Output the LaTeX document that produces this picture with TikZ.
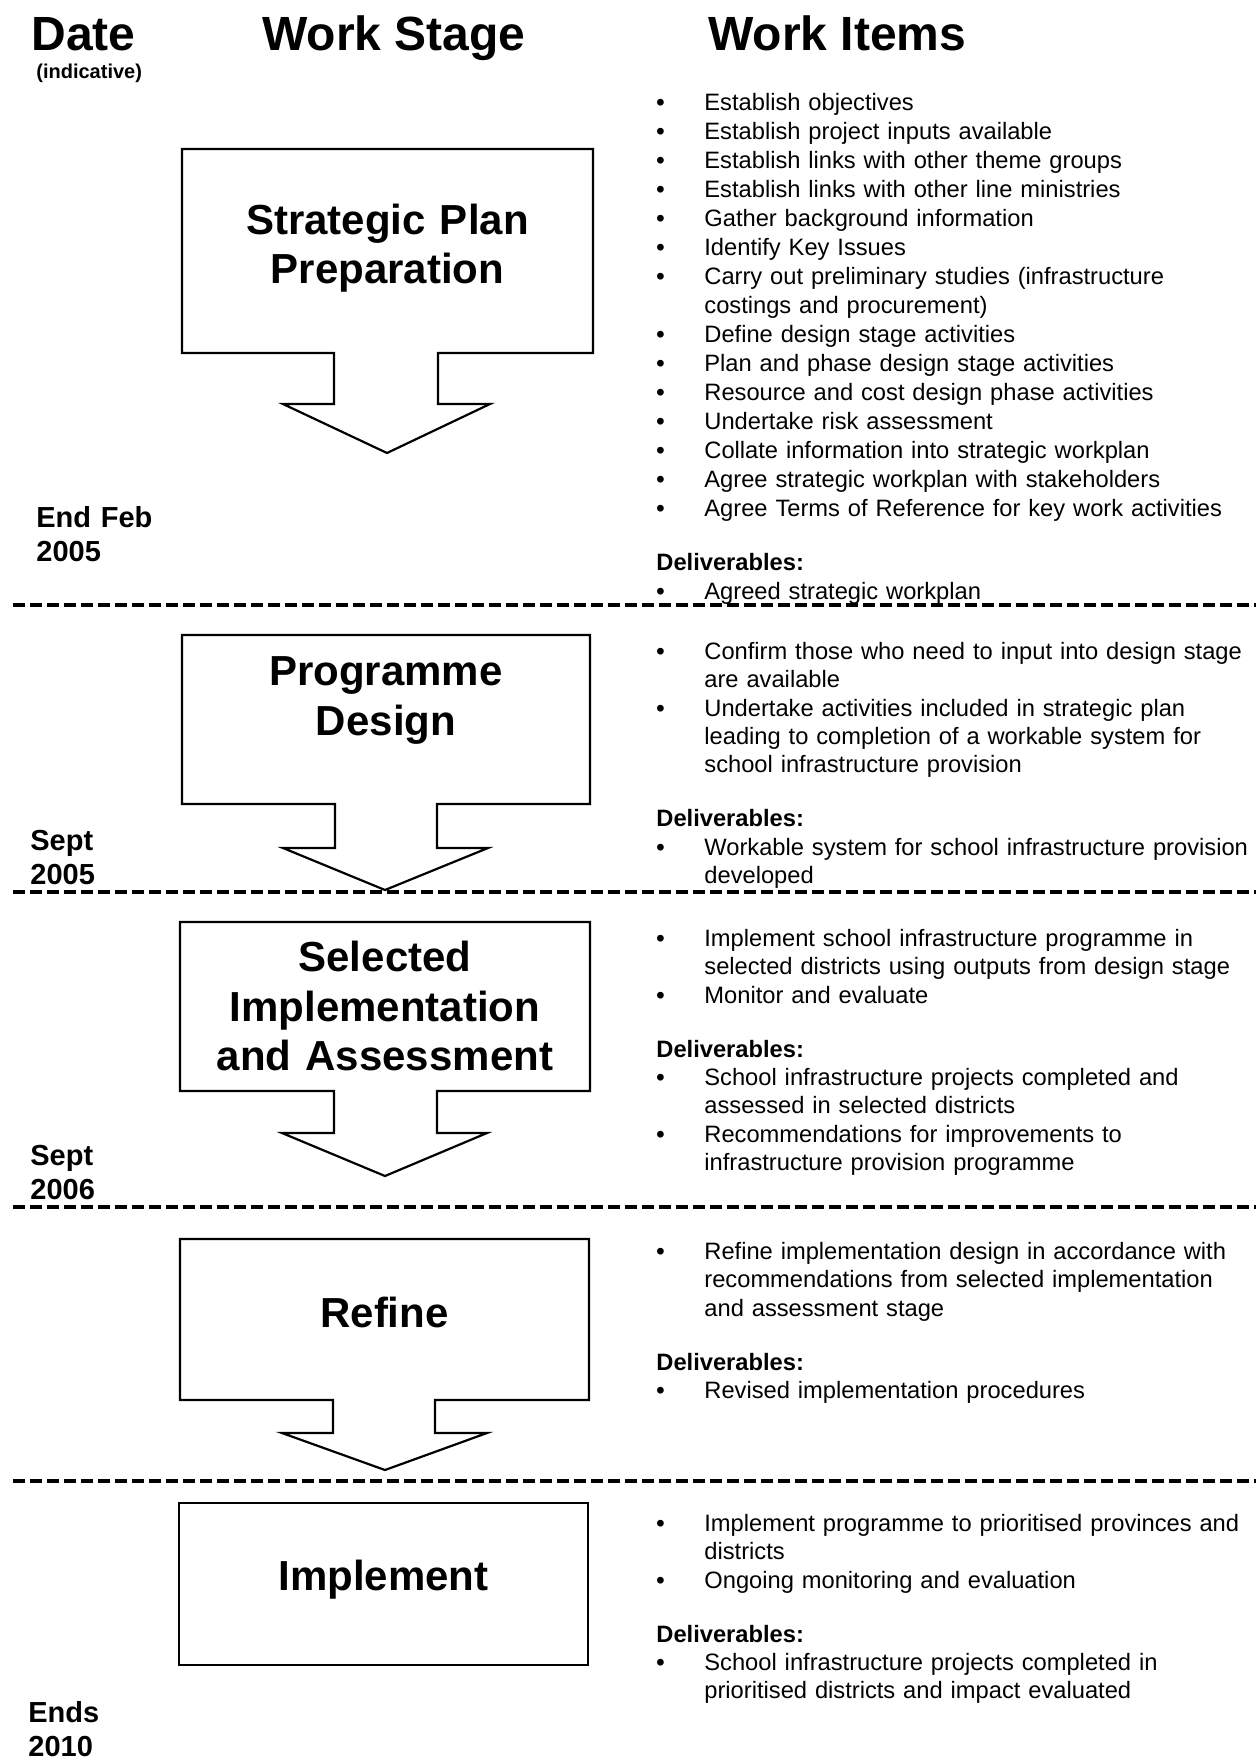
\documentclass[tikz,border=0pt]{standalone}
\usepackage{fontspec}
\setmainfont{Liberation Sans}
\usepackage{tikz}
\setlength{\parindent}{0pt}
\setlength{\parskip}{0pt}
\newcommand{\bul}{\makebox[24pt][l]{\textbf{\textbullet}}}
\newcommand{\cont}{\hspace*{24pt}}

\begin{document}
\begin{tikzpicture}[
    x=0.5pt, y=-0.5pt,
    header/.style={anchor=base west, inner sep=0, font=\fontsize{24}{28}\selectfont\bfseries},
    datelbl/.style={anchor=north west, inner sep=0, text width=80pt, align=left, font=\fontsize{14.5}{16.85}\selectfont\bfseries},
    stage/.style={anchor=north, inner sep=0, text width=200pt, align=center, font=\fontsize{21}{24.7}\selectfont\bfseries},
    items/.style={anchor=north west, inner sep=0, text width=300pt, align=left, font=\fontsize{11.85}{14.2}\selectfont},
    outline/.style={line width=1.1pt, line join=miter},
    divider/.style={line width=1.6pt, dash pattern=on 6pt off 2.5pt}
]
\useasboundingbox (0,0) rectangle (1256,1762);

% Column headers
\node[header] (hdate) at (31,50.5) {Date};
\node[anchor=base west, inner sep=0, font=\fontsize{10}{12}\selectfont\bfseries] (hind) at (36,78.6) {(indicative)};
\node[header] (hstage) at (262,50.5) {Work Stage};
\node[header] (hitems) at (708,50.5) {Work Items};

% Dividers between stages
\draw[divider] (13,605) -- (1256,605);
\draw[divider] (13,892) -- (1256,892);
\draw[divider] (13,1207) -- (1256,1207);
\draw[divider] (13,1481) -- (1256,1481);

% Stage arrows
\draw[outline] (182,149) -- (593,149) -- (593,353) -- (438,353) -- (438,404) -- (490,404) -- (387,453)
    -- (283,404) -- (334,404) -- (334,353) -- (182,353) -- cycle;
\draw[outline] (182,635) -- (590,635) -- (590,804) -- (437,804) -- (437,848) -- (488,848) -- (385,890)
    -- (283,848) -- (335,848) -- (335,804) -- (182,804) -- cycle;
\draw[outline] (180,922) -- (590,922) -- (590,1091) -- (437,1091) -- (437,1133) -- (487,1133) -- (385,1176)
    -- (282,1133) -- (334,1133) -- (334,1091) -- (180,1091) -- cycle;
\draw[outline] (180,1239) -- (589,1239) -- (589,1400) -- (435,1400) -- (435,1433) -- (487,1433) -- (385,1470)
    -- (282,1433) -- (333,1433) -- (333,1400) -- (180,1400) -- cycle;
\draw[outline] (179,1503) rectangle (588,1665);

% Stage names
\node[stage] (spp) at (387.5,199.4) {\strut Strategic Plan\\Preparation};
\node[stage] (pgd) at (386,651) {\strut Programme\\Design};
\node[stage] (sia) at (385,937) {\strut Selected\\Implementation\\and Assessment};
\node[stage] (rfn) at (384.5,1293) {\strut Refine};
\node[stage] (imp) at (383.5,1556) {\strut Implement};

% Dates
\node[datelbl] (d1) at (36,503.4) {\strut End Feb\\2005};
\node[datelbl] (d2) at (30,826.4) {\strut Sept\\2005};
\node[datelbl] (d3) at (30,1141.4) {\strut Sept\\2006};
\node[datelbl] (d4) at (28,1698.4) {\strut Ends\\2010};

% Work items
\node[items, font=\fontsize{11.85}{14.5}\selectfont] (w1) at (656,89.7) {\strut\bul Establish objectives\\
\bul Establish project inputs available\\
\bul Establish links with other theme groups\\
\bul Establish links with other line ministries\\
\bul Gather background information\\
\bul Identify Key Issues\\
\bul Carry out preliminary studies (infrastructure\\
\cont costings and procurement)\\
\bul Define design stage activities\\
\bul Plan and phase design stage activities\\
\bul Resource and cost design phase activities\\
\bul Undertake risk assessment\\
\bul Collate information into strategic workplan\\
\bul Agree strategic workplan with stakeholders\\
\bul Agree Terms of Reference for key work activities\\[12.5pt]
\textbf{Deliverables:}\\
\bul Agreed strategic workplan};

\node[items] (w2) at (656,639) {\strut\bul Confirm those who need to input into design stage\\
\cont are available\\
\bul Undertake activities included in strategic plan\\
\cont leading to completion of a workable system for\\
\cont school infrastructure provision\\[12.8pt]
\textbf{Deliverables:}\\
\bul Workable system for school infrastructure provision\\
\cont developed};

\node[items] (w3) at (656,926) {\strut\bul Implement school infrastructure programme in\\
\cont selected districts using outputs from design stage\\
\bul Monitor and evaluate\\[12.8pt]
\textbf{Deliverables:}\\
\bul School infrastructure projects completed and\\
\cont assessed in selected districts\\
\bul Recommendations for improvements to\\
\cont infrastructure provision programme};

\node[items] (w4) at (656,1239) {\strut\bul Refine implementation design in accordance with\\
\cont recommendations from selected implementation\\
\cont and assessment stage\\[12.8pt]
\textbf{Deliverables:}\\
\bul Revised implementation procedures};

\node[items] (w5) at (656,1511) {\strut\bul Implement programme to prioritised provinces and\\
\cont districts\\
\bul Ongoing monitoring and evaluation\\[12.8pt]
\textbf{Deliverables:}\\
\bul School infrastructure projects completed in\\
\cont prioritised districts and impact evaluated};

\end{tikzpicture}
\end{document}
